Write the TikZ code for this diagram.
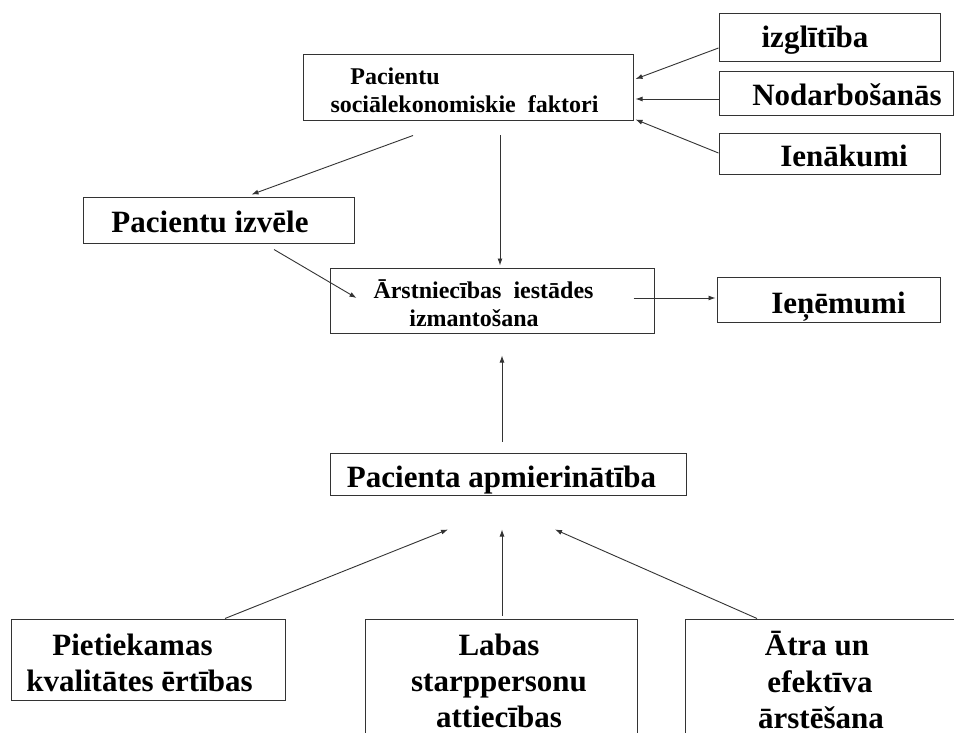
\documentclass[tikz,border=0pt]{standalone}
\usepackage{fontspec}
\setmainfont{Liberation Serif}
\usetikzlibrary{arrows.meta,calc}
\begin{document}
\begin{tikzpicture}[x=1pt,y=-1pt,
  box/.style={draw=black!80, line width=1pt, rectangle, inner sep=0pt},
  big/.style={font=\fontsize{31}{36}\selectfont\bfseries, anchor=base, inner sep=0pt},
  small/.style={font=\fontsize{24}{28}\selectfont\bfseries, anchor=base, inner sep=0pt},
  arr/.style={draw=black!80, line width=0.9pt, -{Latex[length=7pt,width=5pt]}}
]
\clip (0,0) rectangle (954,733);
\fill[white] (0,0) rectangle (954,733);

% frames
\node[box, minimum width=221pt, minimum height=48pt] (izg)   at (829.5,38)  {};
\node[box, minimum width=234pt, minimum height=44pt] (nod)   at (836,94)    {};
\node[box, minimum width=221pt, minimum height=41pt] (ien)   at (829.5,154.5) {};
\node[box, minimum width=330pt, minimum height=66pt] (socio) at (468,88)    {};
\node[box, minimum width=271pt, minimum height=45pt] (izv)   at (218.5,220.5) {};
\node[box, minimum width=324pt, minimum height=65pt] (arst)  at (492,300.5) {};
\node[box, minimum width=223pt, minimum height=45pt] (ienem) at (828.5,299.5) {};
\node[box, minimum width=356pt, minimum height=42pt] (apm)   at (508,474)   {};
\node[box, minimum width=274pt, minimum height=81pt] (pie)   at (148,659.5) {};
\node[box, minimum width=272pt, minimum height=141pt] (lab)  at (501,689.5) {};
\node[box, minimum width=290pt, minimum height=141pt] (atra) at (830,689.5) {};

% labels
\node[big] (izgT) at (815,48) {izglītība};
\node[big] (nodT) at (847,106) {Nodarbošanās};
\node[big] (ienT) at (844,167) {Ienākumi};
\node[small] (socioT1) at (395,85) {Pacientu};
\node[small] (socioT2) at (464.5,113) {sociālekonomiskie\ \ faktori};
\node[big] (izvT) at (210,233) {Pacientu izvēle};
\node[small] (arstT1) at (483.5,298) {Ārstniecības\ \ iestādes};
\node[small] (arstT2) at (474,326) {izmantošana};
\node[big] (ienemT) at (838.5,313) {Ieņēmumi};
\node[big] (apmT) at (501.5,487) {Pacienta apmierinātība};
\node[big] (pieT1) at (132.5,655) {Pietiekamas};
\node[big] (pieT2) at (139.5,691) {kvalitātes ērtības};
\node[big] (labT1) at (499,655) {Labas};
\node[big] (labT2) at (499,691) {starppersonu};
\node[big] (labT3) at (499,727) {attiecības};
\node[big] (atraT1) at (817,655) {Ātra un};
\node[big] (atraT2) at (820,692) {efektīva};
\node[big] (atraT3) at (821,728) {ārstēšana};

% connectors
\draw[arr] ($(izg.west)+(0,10)$) -- ($(socio.east)+(2,-9)$);
\draw[arr] ($(nod.west)+(0,5)$) -- ($(socio.east)+(2,11)$);
\draw[arr] ($(ien.west)+(0,-1.5)$) -- ($(socio.south east)+(2,-2)$);
\draw[arr] ($(socio.south)+(-55,14)$) -- ($(izv.north)+(33,-3)$);
\draw[arr] ($(socio.south)+(32,14)$) -- ($(arst.north)+(8,-2)$);
\draw[arr] ($(izv.south)+(55.5,6)$) -- ($(arst.west)+(27,-2.5)$);
\draw[arr] ($(arst.east)+(-21,-2.5)$) -- ($(ienem.west)+(-1,-1.5)$);
\draw[arr] ($(apm.north)+(-6,-11)$) -- ($(arst.south)+(10,22)$);
\draw[arr] ($(pie.north)+(77,0)$) -- ($(apm.south)+(-60,34)$);
\draw[arr] ($(lab.north)+(1,-3)$) -- ($(apm.south)+(-6,34)$);
\draw[arr] ($(atra.north)+(-73,0)$) -- ($(apm.south)+(47,34)$);
\end{tikzpicture}
\end{document}
